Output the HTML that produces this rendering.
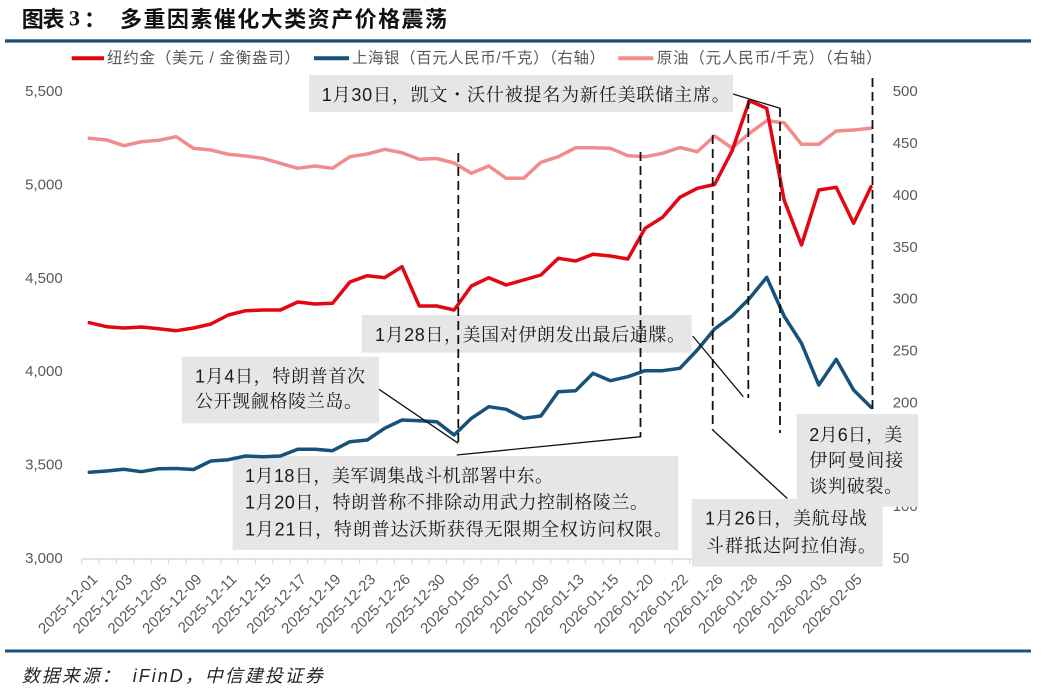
<!DOCTYPE html>
<html>
<head>
<meta charset="utf-8">
<style>
  html, body { margin: 0; padding: 0; background: #ffffff; }
  body { width: 1048px; height: 689px; overflow: hidden; }
  svg { display: block; }
  .ax { font-family: "Liberation Sans", "Noto Sans CJK SC", sans-serif; font-size: 15px; fill: #595959; }
  .xl { font-family: "Liberation Sans", "Noto Sans CJK SC", sans-serif; font-size: 15px; fill: #595959; }
  .lg { font-family: "Liberation Sans", "Noto Sans CJK SC", sans-serif; font-size: 15.5px; fill: #595959; }
  .an { font-family: "Liberation Sans", "Noto Serif CJK SC", serif; font-size: 18px; fill: #1a1a1a; }
  .tt { font-family: "Noto Sans CJK SC", "Liberation Sans", sans-serif; font-size: 22px; font-weight: bold; fill: #111; }
  .ft { font-family: "Liberation Sans", "Noto Sans CJK SC", sans-serif; font-size: 18px; font-style: italic; fill: #262626; }
</style>
</head>
<body>
<svg width="1048" height="689" viewBox="0 0 1048 689" xmlns="http://www.w3.org/2000/svg">
  <!-- Title -->
  <text class="tt" x="21.7" y="18" dominant-baseline="central" textLength="43" lengthAdjust="spacing">图表</text>
  <text x="69" y="18" dominant-baseline="central" style="font-family:'Liberation Serif',serif;font-size:22px;font-weight:bold;fill:#111;">3</text>
  <text class="tt" x="84" y="18" dominant-baseline="central">：</text>
  <text class="tt" x="120" y="18" dominant-baseline="central" textLength="327" lengthAdjust="spacing">多重因素催化大类资产价格震荡</text>
  <rect x="5" y="39.3" width="1026" height="3.3" fill="#1b5078"/>

  <!-- Legend -->
  <line x1="71.7" y1="58.3" x2="104" y2="58.3" stroke="#e30613" stroke-width="4"/>
  <text class="lg" x="107" y="58.3" dominant-baseline="central" textLength="193" lengthAdjust="spacing">纽约金（美元 / 金衡盎司）</text>
  <line x1="314" y1="58.3" x2="349" y2="58.3" stroke="#17527a" stroke-width="4"/>
  <text class="lg" x="352" y="58.3" dominant-baseline="central" textLength="253" lengthAdjust="spacing">上海银（百元人民币/千克）（右轴）</text>
  <line x1="618.3" y1="58.3" x2="653.3" y2="58.3" stroke="#f08c8c" stroke-width="4"/>
  <text class="lg" x="656.7" y="58.3" dominant-baseline="central" textLength="225" lengthAdjust="spacing">原油（元人民币/千克）（右轴）</text>

  <!-- Left axis labels -->
  <g class="ax" text-anchor="end">
    <text x="62.7" y="91.7" dominant-baseline="central">5,500</text>
    <text x="62.7" y="185" dominant-baseline="central">5,000</text>
    <text x="62.7" y="278.3" dominant-baseline="central">4,500</text>
    <text x="62.7" y="371.7" dominant-baseline="central">4,000</text>
    <text x="62.7" y="465" dominant-baseline="central">3,500</text>
    <text x="62.7" y="558.3" dominant-baseline="central">3,000</text>
  </g>
  <!-- Right axis labels -->
  <g class="ax">
    <text x="892.7" y="91.7" dominant-baseline="central">500</text>
    <text x="892.7" y="143.6" dominant-baseline="central">450</text>
    <text x="892.7" y="195.4" dominant-baseline="central">400</text>
    <text x="892.7" y="247.3" dominant-baseline="central">350</text>
    <text x="892.7" y="299.1" dominant-baseline="central">300</text>
    <text x="892.7" y="351" dominant-baseline="central">250</text>
    <text x="892.7" y="402.8" dominant-baseline="central">200</text>
    <text x="892.7" y="454.7" dominant-baseline="central">150</text>
    <text x="892.7" y="506.5" dominant-baseline="central">100</text>
    <text x="892.7" y="558.4" dominant-baseline="central">50</text>
  </g>

  <!-- X axis -->
  <line x1="81.7" y1="559" x2="880.7" y2="559" stroke="#d9d9d9" stroke-width="1.5"/>
  <path stroke="#d9d9d9" stroke-width="1.2" fill="none" d="M81.7 559v5 M99.07 559v5 M116.44 559v5 M133.81 559v5 M151.18 559v5 M168.55 559v5 M185.92 559v5 M203.29 559v5 M220.66 559v5 M238.03 559v5 M255.4 559v5 M272.77 559v5 M290.14 559v5 M307.51 559v5 M324.88 559v5 M342.25 559v5 M359.62 559v5 M376.99 559v5 M394.36 559v5 M411.73 559v5 M429.1 559v5 M446.47 559v5 M463.84 559v5 M481.21 559v5 M498.58 559v5 M515.95 559v5 M533.32 559v5 M550.69 559v5 M568.06 559v5 M585.43 559v5 M602.8 559v5 M620.17 559v5 M637.54 559v5 M654.91 559v5 M672.28 559v5 M689.65 559v5 M707.02 559v5 M724.39 559v5 M741.76 559v5 M759.13 559v5 M776.5 559v5 M793.87 559v5 M811.24 559v5 M828.61 559v5 M845.98 559v5 M863.35 559v5 M880.72 559v5"/>

  <g class="xl" text-anchor="end">
    <text transform="translate(95.3,577) rotate(-45)" dominant-baseline="central">2025-12-01</text>
    <text transform="translate(130,577) rotate(-45)" dominant-baseline="central">2025-12-03</text>
    <text transform="translate(164.8,577) rotate(-45)" dominant-baseline="central">2025-12-05</text>
    <text transform="translate(199.5,577) rotate(-45)" dominant-baseline="central">2025-12-09</text>
    <text transform="translate(234.3,577) rotate(-45)" dominant-baseline="central">2025-12-11</text>
    <text transform="translate(269,577) rotate(-45)" dominant-baseline="central">2025-12-15</text>
    <text transform="translate(303.7,577) rotate(-45)" dominant-baseline="central">2025-12-17</text>
    <text transform="translate(338.5,577) rotate(-45)" dominant-baseline="central">2025-12-19</text>
    <text transform="translate(373.2,577) rotate(-45)" dominant-baseline="central">2025-12-23</text>
    <text transform="translate(408,577) rotate(-45)" dominant-baseline="central">2025-12-26</text>
    <text transform="translate(442.7,577) rotate(-45)" dominant-baseline="central">2025-12-30</text>
    <text transform="translate(477.4,577) rotate(-45)" dominant-baseline="central">2026-01-05</text>
    <text transform="translate(512.2,577) rotate(-45)" dominant-baseline="central">2026-01-07</text>
    <text transform="translate(546.9,577) rotate(-45)" dominant-baseline="central">2026-01-09</text>
    <text transform="translate(581.7,577) rotate(-45)" dominant-baseline="central">2026-01-13</text>
    <text transform="translate(616.4,577) rotate(-45)" dominant-baseline="central">2026-01-15</text>
    <text transform="translate(651.1,577) rotate(-45)" dominant-baseline="central">2026-01-20</text>
    <text transform="translate(685.9,577) rotate(-45)" dominant-baseline="central">2026-01-22</text>
    <text transform="translate(720.6,577) rotate(-45)" dominant-baseline="central">2026-01-26</text>
    <text transform="translate(755.4,577) rotate(-45)" dominant-baseline="central">2026-01-28</text>
    <text transform="translate(790.1,577) rotate(-45)" dominant-baseline="central">2026-01-30</text>
    <text transform="translate(824.8,577) rotate(-45)" dominant-baseline="central">2026-02-03</text>
    <text transform="translate(859.6,577) rotate(-45)" dominant-baseline="central">2026-02-05</text>
  </g>

  <!-- Annotation boxes -->
  <g fill="#e6e6e6">
    <rect x="309" y="75" width="424" height="37"/>
    <rect x="361.7" y="315" width="330" height="37.7"/>
    <rect x="181.7" y="356.7" width="197.3" height="66.6"/>
    <rect x="232.7" y="456" width="445.6" height="94"/>
    <rect x="691.7" y="499" width="191" height="67.7"/>
    <rect x="796.7" y="414" width="121.6" height="92.7"/>
  </g>

  <!-- Series -->
  <g fill="none" stroke-width="3.5" stroke-linejoin="round" stroke-linecap="round">
    <polyline stroke="#f08c8c" points="89.3,138.3 106.7,140 124,145.7 141.4,141.7 158.8,140.3 176.2,136.7 193.5,148.3 210.9,150 228.3,154.3 245.6,156 263,158.3 280.4,163.3 297.7,168.3 315.1,166 332.5,168.3 349.9,156.7 367.2,154 384.6,149.3 402,152.7 419.3,159.3 436.7,158.5 454.1,163 471.4,173.3 488.8,166 506.2,178.3 523.6,178.3 540.9,162.3 558.3,156.7 575.7,147.7 593,147.7 610.4,148.3 627.8,155.7 645.1,156.7 662.5,153.3 679.9,147.5 697.3,151.7 714.6,136 732,148 749.4,133.3 766.7,120.7 784.1,122.7 801.5,144.3 818.8,144.3 836.2,131 853.6,130 871,128.3"/>
    <polyline stroke="#17527a" points="89.3,472.3 106.7,471 124,469.3 141.4,471.7 158.8,468.7 176.2,468.5 193.5,469.5 210.9,461 228.3,459.7 245.6,456 263,456.7 280.4,456 297.7,449.3 315.1,449.3 332.5,450.7 349.9,441.7 367.2,440 384.6,428.3 402,420 419.3,420.7 436.7,421.7 454.1,435 471.4,418.3 488.8,406.7 506.2,409.3 523.6,418.3 540.9,416 558.3,391.7 575.7,390.7 593,373.3 610.4,380.7 627.8,376.7 645.1,370.7 662.5,370.7 679.9,368.3 697.3,350 714.6,329 732,316 749.4,298.5 766.7,277.3 784.1,316 801.5,343.3 818.8,385 836.2,359.3 853.6,390 871,407.3"/>
    <polyline stroke="#e30613" points="89.3,322.7 106.7,326.7 124,328 141.4,327 158.8,328.7 176.2,330.7 193.5,328 210.9,324 228.3,315 245.6,310.7 263,310 280.4,310 297.7,302 315.1,304 332.5,303.3 349.9,282 367.2,275.7 384.6,277.7 402,266.7 419.3,306 436.7,306 454.1,310 471.4,286 488.8,277.7 506.2,285 523.6,280 540.9,275 558.3,258.3 575.7,261 593,254.3 610.4,256 627.8,259 645.1,228.3 662.5,217.3 679.9,197.3 697.3,188.3 714.6,184.5 732,151 749.4,100.7 766.7,108.3 784.1,200 801.5,245 818.8,190 836.2,187.3 853.6,223.3 871,186.7"/>
  </g>

  <!-- Annotation text -->
  <g class="an">
    <text x="321.7" y="95" dominant-baseline="central" textLength="408" lengthAdjust="spacing">1月30日，凯文・沃什被提名为新任美联储主席。</text>
    <text x="375" y="335" dominant-baseline="central" textLength="310" lengthAdjust="spacing">1月28日，美国对伊朗发出最后通牒。</text>
    <text x="195" y="376.7" dominant-baseline="central" textLength="170" lengthAdjust="spacing">1月4日，特朗普首次</text>
    <text x="195" y="401.7" dominant-baseline="central" textLength="167" lengthAdjust="spacing">公开觊觎格陵兰岛。</text>
    <text x="245" y="476" dominant-baseline="central" textLength="308" lengthAdjust="spacing">1月18日，美军调集战斗机部署中东。</text>
    <text x="245" y="502.7" dominant-baseline="central" textLength="403" lengthAdjust="spacing">1月20日，特朗普称不排除动用武力控制格陵兰。</text>
    <text x="245" y="529.3" dominant-baseline="central" textLength="427" lengthAdjust="spacing">1月21日，特朗普达沃斯获得无限期全权访问权限。</text>
    <text x="705" y="518.3" dominant-baseline="central" textLength="162" lengthAdjust="spacing">1月26日，美航母战</text>
    <text x="706" y="546" dominant-baseline="central" textLength="170" lengthAdjust="spacing">斗群抵达阿拉伯海。</text>
    <text x="809.3" y="435" dominant-baseline="central" textLength="93" lengthAdjust="spacing">2月6日，美</text>
    <text x="809.3" y="460.7" dominant-baseline="central" textLength="94" lengthAdjust="spacing">伊阿曼间接</text>
    <text x="809.3" y="486.7" dominant-baseline="central" textLength="93" lengthAdjust="spacing">谈判破裂。</text>
  </g>

  <!-- Connectors -->
  <g stroke="#111" stroke-width="1.3" fill="none">
    <line x1="379" y1="389.3" x2="458.3" y2="443.3"/>
    <line x1="456.7" y1="455" x2="641" y2="436.7"/>
    <line x1="692.7" y1="336" x2="743.3" y2="396.7"/>
    <line x1="733" y1="94" x2="780" y2="108.3"/>
    <line x1="712.7" y1="430" x2="787.3" y2="498.5"/>
  </g>
  <g stroke="#111" stroke-width="1.8" fill="none" stroke-dasharray="9,5">
    <line x1="458.3" y1="153" x2="458.3" y2="443"/>
    <line x1="640.5" y1="152" x2="640.5" y2="437"/>
    <line x1="712.7" y1="135" x2="712.7" y2="430"/>
    <line x1="748.3" y1="100" x2="748.3" y2="398"/>
    <line x1="780" y1="108" x2="780" y2="433"/>
    <line x1="872.5" y1="78" x2="872.5" y2="413"/>
  </g>

  <!-- Bottom rule and footer -->
  <rect x="5" y="649.5" width="1026" height="3" fill="#1b5078"/>
  <text class="ft" x="21.7" y="676" dominant-baseline="central" textLength="98" lengthAdjust="spacing">数据来源：</text>
  <text class="ft" x="132.7" y="676" dominant-baseline="central" textLength="190" lengthAdjust="spacing">iFinD，中信建投证券</text>
</svg>
</body>
</html>
